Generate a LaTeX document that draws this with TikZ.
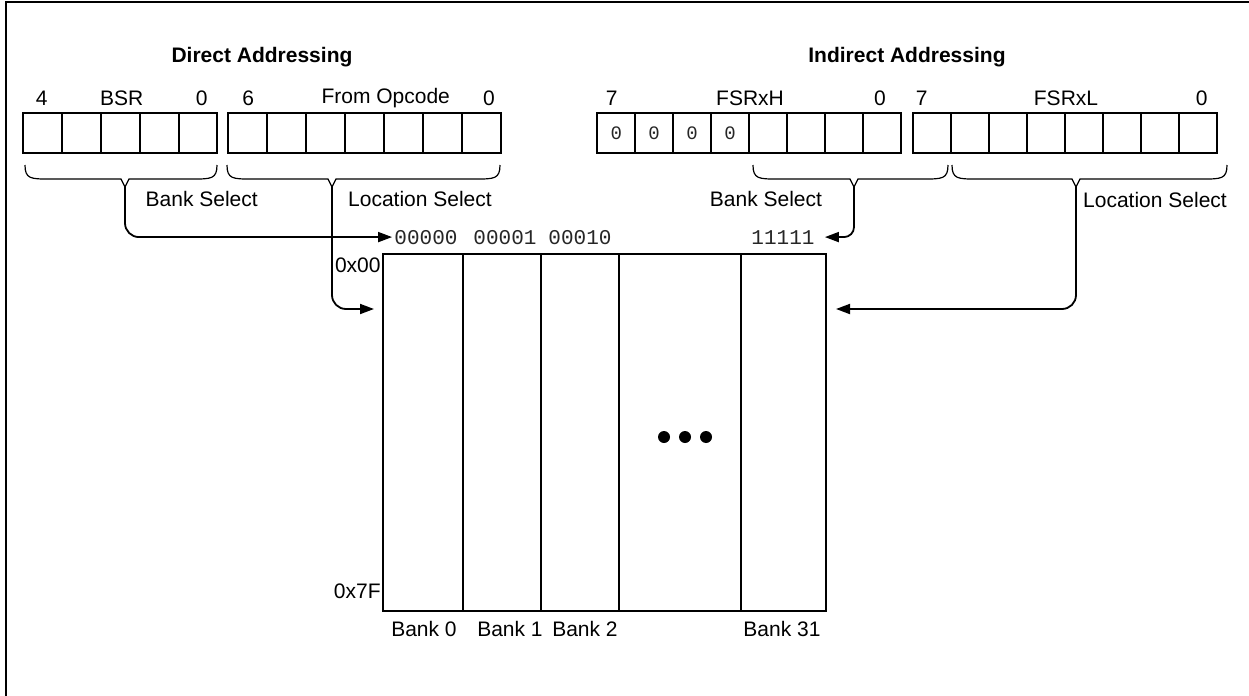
\documentclass[tikz,border=0pt]{standalone}
\usepackage{fontspec}
\setmainfont{Liberation Sans}
\newfontfamily\bitfont{Liberation Mono}
\usetikzlibrary{arrows.meta,positioning,calc}

\tikzset{
  cell/.style={draw,line width=1pt},
  lbl/.style={inner sep=0pt,anchor=base},
  title/.style={lbl,font=\fontsize{10.5}{12}\selectfont\bfseries},
  brace/.style={line width=0.6pt},
  sel/.style={line width=0.9pt,rounded corners=7pt,-{Triangle[length=7pt,width=5pt]}},
  bits/.style={font=\bitfont\fontsize{10.5}{12}\selectfont,text=black!85,inner sep=1pt},
}

% curly brace under a bit field: tip name, left x, right x, tip x
\newcommand{\fieldbrace}[4]{%
  \draw[brace] (#2,165) .. controls (#2,179) and (#2+6,179) .. (#2+24,179)
    -- (#4-4,179) -- (#4,187) coordinate (#1) -- (#4+4,179)
    -- (#3-24,179) .. controls (#3-6,179) and (#3,179) .. (#3,165);}

\begin{document}
\begin{tikzpicture}[x=0.5pt,y=-0.5pt,font=\fontsize{10.5}{12}\selectfont]
  \useasboundingbox (0,0) rectangle (1249,696);
  % frame
  \draw[line width=1pt] (5.5,696) -- (5.5,1.5) -- (1249,1.5);

  % titles
  \node[title] (dtitle) at (262,62) {Direct Addressing};
  \node[title] (ititle) at (907,62) {Indirect Addressing};

  % registers
  \foreach \i in {0,...,4}
    \draw[cell] ({23.3+\i*38.8},112.5) rectangle ++(38.8,40);
  \foreach \i in {0,...,6}
    \draw[cell] ({228.3+\i*38.96},112.5) rectangle ++(38.96,40);
  \foreach \i in {0,...,7}
    \draw[cell] ({597.3+\i*37.93},112.5) rectangle ++(37.93,40);
  \foreach \i in {0,...,7}
    \draw[cell] ({913.3+\i*38},112.5) rectangle ++(38,40);
  \foreach \i in {0,...,3}
    \node[bits,font=\bitfont\fontsize{9.5}{10}\selectfont] (z\i) at ({597.3+(\i+0.5)*37.93},133) {0};

  % bit numbers and register names
  \node[lbl] (bsrhi) at (41.7,105) {4};
  \node[lbl] (bsr) at (121.7,105) {BSR};
  \node[lbl] (bsrlo) at (201.7,105) {0};
  \node[lbl] (ophi) at (248.3,105) {6};
  \node[lbl] (op) at (385.7,103) {From Opcode};
  \node[lbl] (oplo) at (489,105) {0};
  \node[lbl] (fhhi) at (611.7,105) {7};
  \node[lbl] (fh) at (750,105) {FSRxH};
  \node[lbl] (fhlo) at (880,105) {0};
  \node[lbl] (flhi) at (921.7,105) {7};
  \node[lbl] (fl) at (1066,105) {FSRxL};
  \node[lbl] (fllo) at (1201.7,105) {0};

  % braces
  \fieldbrace{bsrtip}{25}{217}{125}
  \fieldbrace{optip}{227}{500}{332}
  \fieldbrace{fhtip}{753}{948}{854}
  \fieldbrace{fltip}{952}{1227}{1076}
  \node[lbl] (bsel) at (201.7,206) {Bank Select};
  \node[lbl] (lsel) at (420,206) {Location Select};
  \node[lbl] (bselx) at (766,206) {Bank Select};
  \node[lbl] (lselx) at (1155,207) {Location Select};

  % bank numbers
  \node[bits,anchor=base] (b0) at (426,244) {00000};
  \node[bits,anchor=base] (b1) at (505,244) {00001};
  \node[bits,anchor=base] (b2) at (580,244) {00010};
  \node[bits,anchor=base] (b31) at (783,244) {11111};

  % data memory
  \coordinate (mem-nw) at (383,254);
  \coordinate (mem-se) at (826,611);
  \draw[cell] (mem-nw) rectangle (mem-se);
  \foreach \x in {463,541,618.5,741}
    \draw[cell] (\x,254) -- (\x,611);
  \foreach \x in {664,685,706}
    \fill (\x,437) circle[radius=6];
  \node[lbl,anchor=base east] (a00) at (381,272) {0x00};
  \node[lbl,anchor=base east] (a7f) at (381,598) {0x7F};
  \node[lbl] (k0) at (424,636) {Bank 0};
  \node[lbl] (k1) at (510,636) {Bank 1};
  \node[lbl] (k2) at (585,636) {Bank 2};
  \node[lbl] (k31) at (782,636) {Bank 31};
  \coordinate (memw) at (374,309);
  \coordinate (meme) at (836,309);

  % selects
  \draw[sel] (bsrtip) |- (b0.west);
  \draw[sel] (optip) |- (memw);
  \draw[sel,rounded corners=5pt] (fhtip) |- ([xshift=4pt]b31.east);
  \draw[sel] (fltip) |- (meme);
\end{tikzpicture}
\end{document}
